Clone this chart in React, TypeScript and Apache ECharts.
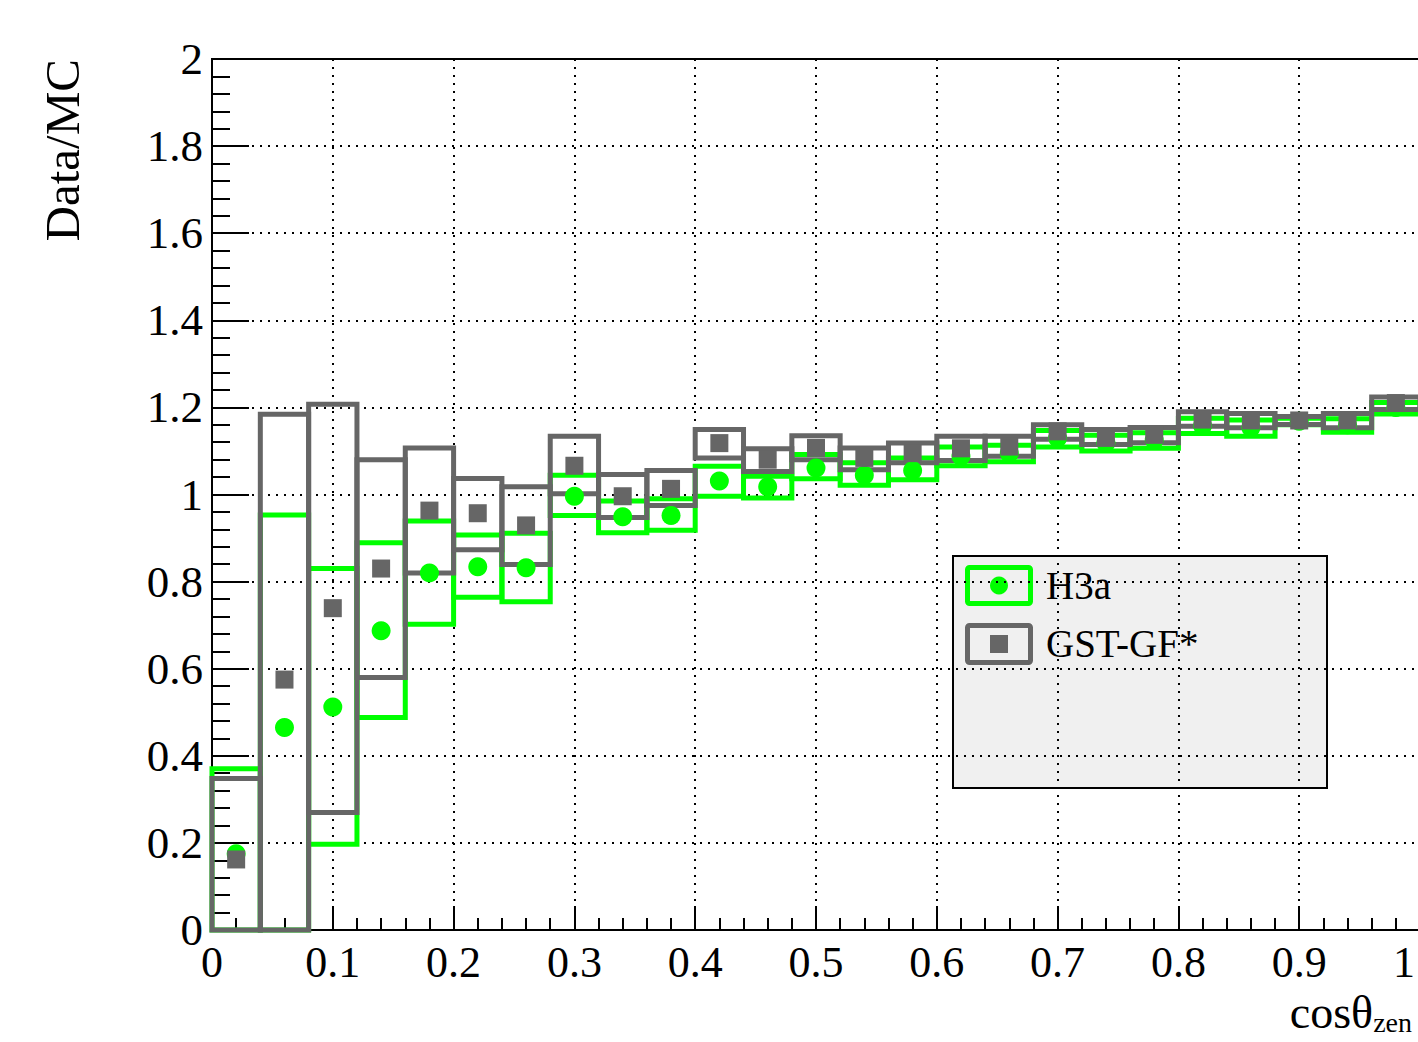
import React, { useEffect, useRef } from "react";
import * as echarts from "echarts";

// bin edges (cos theta_zen)
const binLow = [0, 0.04, 0.08, 0.12, 0.16, 0.2, 0.24, 0.28, 0.32, 0.36, 0.4, 0.44, 0.48, 0.52, 0.56, 0.6, 0.64, 0.68, 0.72, 0.76, 0.8, 0.84, 0.88, 0.92, 0.96];
const binHigh = [0.04, 0.08, 0.12, 0.16, 0.2, 0.24, 0.28, 0.32, 0.36, 0.4, 0.44, 0.48, 0.52, 0.56, 0.6, 0.64, 0.68, 0.72, 0.76, 0.8, 0.84, 0.88, 0.92, 0.96, 1.0];
const binCenter = [0.02, 0.06, 0.1, 0.14, 0.18, 0.22, 0.26, 0.3, 0.34, 0.38, 0.42, 0.46, 0.5, 0.54, 0.58, 0.62, 0.66, 0.7, 0.74, 0.78, 0.82, 0.86, 0.9, 0.94, 0.98];

// H3a
const h3aValue = [0.175, 0.465, 0.512, 0.687, 0.82, 0.834, 0.832, 0.996, 0.949, 0.952, 1.031, 1.018, 1.061, 1.044, 1.055, 1.088, 1.095, 1.13, 1.118, 1.125, 1.158, 1.153, 1.168, 1.16, 1.2];
const h3aBoxLow = [0, 0, 0.197, 0.488, 0.702, 0.764, 0.754, 0.952, 0.912, 0.918, 0.996, 0.992, 1.036, 1.021, 1.034, 1.066, 1.075, 1.109, 1.1, 1.106, 1.14, 1.134, 1.16, 1.143, 1.185];
const h3aBoxHigh = [0.37, 0.953, 0.83, 0.889, 0.939, 0.907, 0.911, 1.044, 0.985, 0.99, 1.065, 1.042, 1.092, 1.073, 1.084, 1.109, 1.113, 1.147, 1.136, 1.142, 1.175, 1.171, 1.175, 1.174, 1.211];

// GST-GF*
const gstValue = [0.162, 0.575, 0.739, 0.83, 0.963, 0.957, 0.929, 1.066, 0.996, 1.013, 1.118, 1.08, 1.107, 1.084, 1.095, 1.106, 1.11, 1.145, 1.13, 1.137, 1.172, 1.17, 1.17, 1.17, 1.21];
const gstBoxLow = [0, 0, 0.27, 0.58, 0.82, 0.873, 0.839, 1.002, 0.947, 0.975, 1.084, 1.053, 1.08, 1.057, 1.073, 1.078, 1.088, 1.127, 1.115, 1.119, 1.157, 1.153, 1.161, 1.153, 1.195];
const gstBoxHigh = [0.348, 1.184, 1.207, 1.08, 1.107, 1.037, 1.018, 1.134, 1.046, 1.055, 1.149, 1.105, 1.135, 1.107, 1.118, 1.134, 1.134, 1.16, 1.149, 1.154, 1.19, 1.186, 1.179, 1.186, 1.224];

const legendNames = ["H3a", "GST-GF*"];
const GREEN = "#00ff00";
const GRAY = "#666666";
const FONT = "Liberation Serif";

function boxSeries(name: string, low: number[], high: number[], color: string, lw: number) {
  return {
    type: "custom",
    name,
    encode: { x: [0, 1], y: [2, 3] },
    data: binLow.map((x0, i) => [x0, binHigh[i], low[i], high[i]]),
    renderItem: (params: any, api: any) => {
      const p0 = api.coord([api.value(0), api.value(3)]);
      const p1 = api.coord([api.value(1), api.value(2)]);
      return {
        type: "rect",
        shape: { x: p0[0], y: p0[1], width: p1[0] - p0[0], height: p1[1] - p0[1] },
        style: { fill: "none", stroke: color, lineWidth: lw },
      };
    },
  };
}

export default function App() {
  const ref = useRef<HTMLDivElement>(null);
  useEffect(() => {
    if (!ref.current) return;
    const chart = echarts.init(ref.current, undefined, { renderer: "svg" });
    const axisLabel = { fontFamily: FONT, fontSize: 45, color: "#000" };
    const splitLine = { show: true, lineStyle: { color: "#000", type: [2, 6], width: 2 } };
    chart.setOption({
      animation: false,
      backgroundColor: "#ffffff",
      grid: {
        left: 212, top: 59, width: 1208, height: 871, show: true,
        borderColor: "#000", borderWidth: 2, backgroundColor: "transparent",
        containLabel: false, outerBoundsMode: "none",
      },
      xAxis: {
        type: "value", min: 0, max: 1, interval: 0.1,
        axisLine: { show: true, onZero: false, lineStyle: { color: "#000", width: 2 } },
        axisTick: { show: true, inside: true, length: 24, lineStyle: { color: "#000", width: 2 } },
        minorTick: { show: true, splitNumber: 5, length: 12, lineStyle: { color: "#000", width: 2 } },
        axisLabel: {
          ...axisLabel, fontSize: 44, margin: 10, showMaxLabel: true, showMinLabel: true, alignMaxLabel: "right",
          formatter: (v: number) => (v >= 1 ? "{m|" + v + "}" : String(v)),
          rich: { m: { fontFamily: FONT, fontSize: 44, color: "#000", padding: [0, 5, 0, 0] } },
        },
        splitLine,
      },
      yAxis: {
        type: "value", min: 0, max: 2, interval: 0.2,
        axisLine: { show: true, onZero: false, lineStyle: { color: "#000", width: 2 } },
        axisTick: { show: true, inside: true, length: 37, lineStyle: { color: "#000", width: 2 } },
        minorTick: { show: true, splitNumber: 5, length: 18, lineStyle: { color: "#000", width: 2 } },
        axisLabel: { ...axisLabel, margin: 9 },
        splitLine,
      },
      series: [
        boxSeries(legendNames[0], h3aBoxLow, h3aBoxHigh, GREEN, 5),
        boxSeries(legendNames[1], gstBoxLow, gstBoxHigh, GRAY, 5),
        {
          type: "scatter", name: legendNames[0], symbol: "circle", symbolSize: 19,
          itemStyle: { color: GREEN, opacity: 1 },
          data: binCenter.map((x, i) => [x, h3aValue[i]]),
        },
        {
          type: "scatter", name: legendNames[1], symbol: "rect", symbolSize: 18,
          itemStyle: { color: GRAY, opacity: 1 },
          data: binCenter.map((x, i) => [x, gstValue[i]]),
        },
      ],
      graphic: [
        {
          type: "text", x: 62, y: 59, rotation: Math.PI / 2,
          style: { text: "Data/MC", fontFamily: FONT, fontSize: 49, fill: "#000", align: "right", verticalAlign: "middle" },
        },
        {
          type: "text", x: 1412, y: 1012,
          style: {
            text: "{a|cosθ}{b|zen}", align: "right", verticalAlign: "middle",
            rich: {
              a: { fontFamily: FONT, fontSize: 46, fill: "#000", color: "#000" },
              b: { fontFamily: FONT, fontSize: 28, fill: "#000", color: "#000", padding: [20, 0, 0, 0] },
            },
          },
        },
        {
          type: "group", z: 100,
          children: [
            { type: "rect", shape: { x: 953, y: 556, width: 374, height: 232 }, style: { fill: "#f0f0f0", stroke: "#000", lineWidth: 2 } },
            { type: "rect", shape: { x: 967.5, y: 567.5, width: 63, height: 36, r: 2 }, style: { fill: "none", stroke: GREEN, lineWidth: 5 } },
            { type: "circle", shape: { cx: 999, cy: 585.5, r: 9 }, style: { fill: GREEN } },
            { type: "rect", shape: { x: 967.5, y: 625.5, width: 63, height: 37, r: 2 }, style: { fill: "none", stroke: GRAY, lineWidth: 5 } },
            { type: "rect", shape: { x: 990, y: 635, width: 18, height: 18 }, style: { fill: GRAY } },
            { type: "text", x: 1046, y: 585, style: { text: legendNames[0], fontFamily: FONT, fontSize: 39, fill: "#000", verticalAlign: "middle" } },
            { type: "text", x: 1046, y: 643, style: { text: legendNames[1], fontFamily: FONT, fontSize: 39, fill: "#000", verticalAlign: "middle" } },
          ],
        },
      ],
    });
    return () => chart.dispose();
  }, []);
  return <div ref={ref} style={{ position: "absolute", left: 0, top: 0, width: 1418, height: 1042 }} />;
}
